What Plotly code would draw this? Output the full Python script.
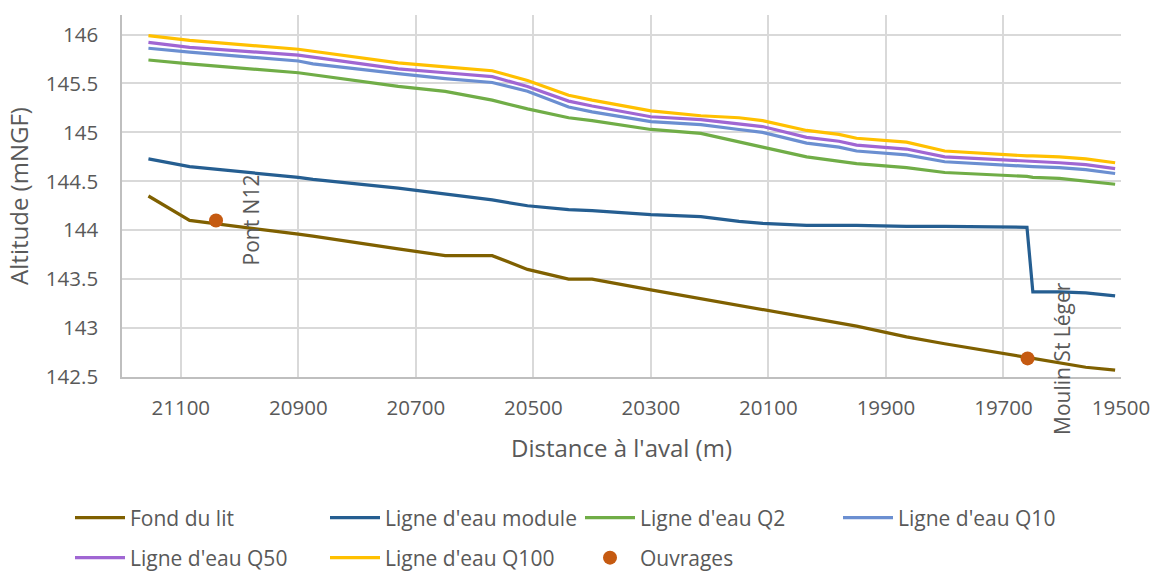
import plotly.graph_objects as go

# Cross-section stations (distance to downstream, m)
distance = [21155, 21085, 20900, 20875, 20730, 20650, 20570, 20510, 20440, 20400,
            20300, 20215, 20150, 20110, 20035, 19980, 19950, 19865, 19800, 19660,
            19650, 19605, 19560, 19510]

fond_du_lit = [144.35, 144.10, 143.96, 143.94, 143.81, 143.74, 143.74, 143.60, 143.50, 143.50,
               143.39, 143.30, 143.23, 143.19, 143.11, 143.05, 143.02, 142.91, 142.84, 142.70,
               142.69, 142.64, 142.60, 142.57]
module = [144.73, 144.65, 144.54, 144.52, 144.43, 144.37, 144.31, 144.25, 144.21, 144.20,
          144.16, 144.14, 144.09, 144.07, 144.05, 144.05, 144.05, 144.04, 144.04, 144.03,
          143.37, 143.37, 143.36, 143.33]
q2 = [145.74, 145.70, 145.61, 145.59, 145.47, 145.42, 145.33, 145.24, 145.15, 145.12,
      145.03, 144.99, 144.90, 144.85, 144.75, 144.71, 144.68, 144.64, 144.59, 144.55,
      144.54, 144.53, 144.50, 144.47]
q10 = [145.86, 145.82, 145.73, 145.70, 145.60, 145.55, 145.51, 145.42, 145.26, 145.21,
       145.11, 145.08, 145.03, 145.00, 144.89, 144.85, 144.81, 144.77, 144.70, 144.65,
       144.65, 144.64, 144.62, 144.58]
q50 = [145.92, 145.87, 145.79, 145.77, 145.65, 145.61, 145.57, 145.47, 145.32, 145.27,
       145.16, 145.13, 145.09, 145.06, 144.95, 144.91, 144.87, 144.83, 144.75, 144.71,
       144.71, 144.69, 144.67, 144.63]
q100 = [145.99, 145.94, 145.85, 145.83, 145.71, 145.67, 145.63, 145.53, 145.38, 145.33,
        145.22, 145.17, 145.15, 145.12, 145.02, 144.98, 144.94, 144.90, 144.81, 144.76,
        144.76, 144.75, 144.73, 144.69]

ouvrages_x = [21040, 19659]
ouvrages_y = [144.10, 142.69]
ouvrages_labels = ["Pont N12", "Moulin St Léger"]

series = [
    ("Fond du lit", fond_du_lit, "#7F6000", "legend"),
    ("Ligne d'eau module", module, "#255E91", "legend"),
    ("Ligne d'eau Q2", q2, "#70AD47", "legend"),
    ("Ligne d'eau Q10", q10, "#6B8FD1", "legend3"),
    ("Ligne d'eau Q50", q50, "#A066D3", "legend2"),
    ("Ligne d'eau Q100", q100, "#FFC000", "legend2"),
]

FONT = "Open Sans, Liberation Sans, sans-serif"
GREY = "#595959"

fig = go.Figure()
for name, vals, color, leg in series:
    fig.add_trace(go.Scatter(x=distance, y=vals, mode="lines", name=name,
                             line=dict(color=color, width=3.2), legend=leg))

fig.add_trace(go.Scatter(x=ouvrages_x, y=ouvrages_y, mode="markers", name="Ouvrages",
                         marker=dict(color="#C55A11", size=14), legend="legend2"))

for xv, yv, lab in zip(ouvrages_x, ouvrages_y, ouvrages_labels):
    fig.add_annotation(x=xv, y=yv, text=lab, showarrow=False, textangle=-90,
                       xanchor="center", yanchor="middle", xshift=35,
                       font=dict(family=FONT, size=21, color=GREY))

legend_common = dict(orientation="h", xref="container", yref="container",
                     xanchor="left", yanchor="middle", itemwidth=50,
                     entrywidthmode="pixels",
                     font=dict(family=FONT, size=21, color=GREY),
                     bgcolor="rgba(0,0,0,0)")

fig.update_layout(
    width=1154, height=572,
    margin=dict(l=122, r=33, t=15, b=195, autoexpand=False),
    paper_bgcolor="white", plot_bgcolor="white",
    font=dict(family=FONT, size=21, color=GREY),
    xaxis=dict(range=[21200, 19500], tick0=19500, dtick=200, tickformat="d",
               showgrid=True, gridcolor="#D9D9D9", gridwidth=1.5,
               showline=True, linecolor="#BFBFBF", linewidth=1.5,
               zeroline=False, ticks="", ticklabelstandoff=12,
               tickfont=dict(family=FONT, size=20.5, color=GREY),
               title=dict(text="Distance à l'aval (m)", standoff=20,
                          font=dict(family=FONT, size=24, color=GREY))),
    yaxis=dict(range=[142.5, 146.2], tick0=142.5, dtick=0.5,
               showgrid=True, gridcolor="#D9D9D9", gridwidth=1.5,
               showline=True, linecolor="#BFBFBF", linewidth=1.5,
               zeroline=False, ticks="", ticklabelstandoff=18,
               tickfont=dict(family=FONT, size=20.5, color=GREY),
               title=dict(text="Altitude (mNGF)", standoff=10,
                          font=dict(family=FONT, size=24, color=GREY))),
    legend=dict(x=70 / 1154, y=1 - 518 / 572, entrywidth=190, **legend_common),
    legend3=dict(x=838 / 1154, y=1 - 518 / 572, entrywidth=160, **legend_common),
    legend2=dict(x=70 / 1154, y=1 - 558 / 572, entrywidth=190, **legend_common),
)

fig.write_html("out.html", config={"displayModeBar": False},
               post_script="document.body.style.margin='0';")
